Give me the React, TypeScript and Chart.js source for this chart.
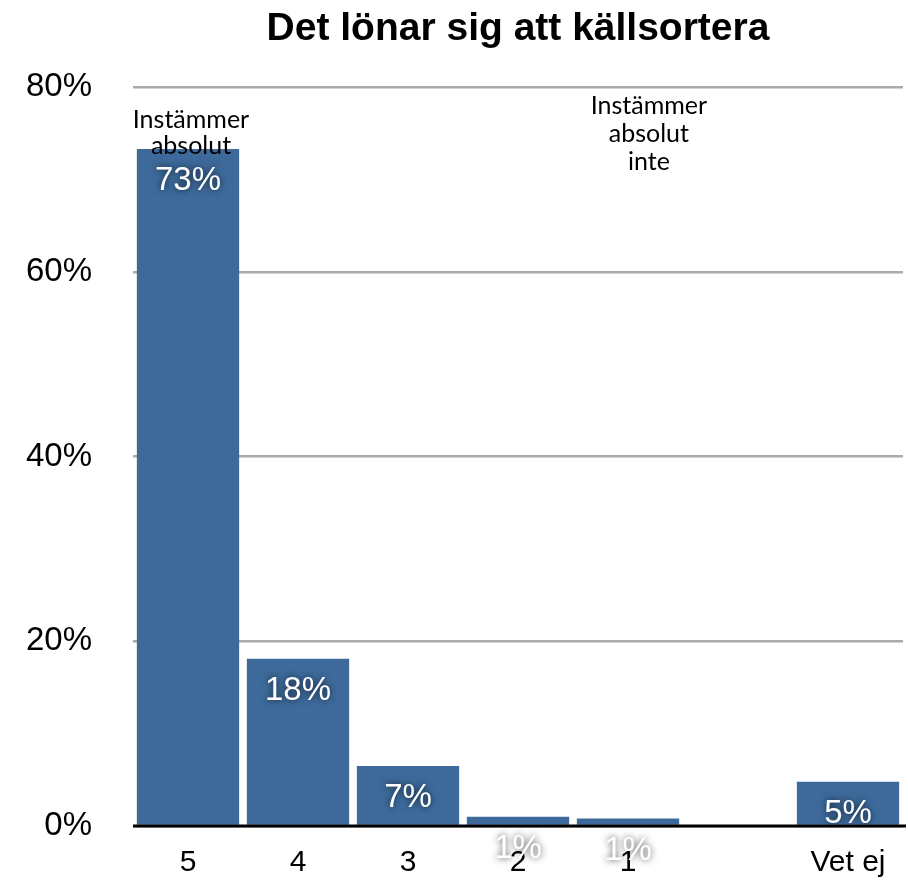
import React, { useEffect, useRef } from "react";
import { Chart, registerables } from "chart.js";

Chart.register(...registerables);

const titleText = "Det lönar sig att källsortera";
const categories = ["5", "4", "3", "2", "1", "", "Vet ej"];
const shares: (number | null)[] = [73.3, 18.1, 6.5, 1.0, 0.8, null, 4.8];
const yTickValues = [0, 20, 40, 60, 80];
const leftNote = ["Instämmer", "absolut"];
const rightNote = ["Instämmer", "absolut", "inte"];

const BAR = "#3d6a9b";

const overlay = {
  id: "overlay",
  afterDraw(chart: any) {
    const ctx = chart.ctx;
    const area = chart.chartArea;
    const xs = chart.scales.x;
    const ys = chart.scales.y;
    ctx.save();
    // baseline
    ctx.strokeStyle = "#000";
    ctx.lineWidth = 3;
    ctx.beginPath();
    ctx.moveTo(area.left, ys.getPixelForValue(0));
    ctx.lineTo(chart.width - 2, ys.getPixelForValue(0));
    ctx.stroke();

    // title
    ctx.fillStyle = "#000";
    ctx.font = "bold 39px 'Liberation Sans', Arial, sans-serif";
    ctx.textAlign = "center";
    ctx.textBaseline = "middle";
    ctx.fillText(titleText, (area.left + area.right) / 2, 29);

    // notes
    ctx.font = "25px Lato, sans-serif";
    const slot = xs.getPixelForValue(1) - xs.getPixelForValue(0);
    const top = ys.getPixelForValue(80);
    leftNote.forEach((t, i) => {
      ctx.fillText(t, xs.getPixelForValue(0) + 3, top + 33 + i * 26);
    });
    rightNote.forEach((t, i) => {
      ctx.fillText(t, xs.getPixelForValue(4) + slot * 0.19, top + 19 + i * 28);
    });

    // data labels
    const meta = chart.getDatasetMeta(0);
    ctx.font = "33px 'Liberation Sans', Arial, sans-serif";
    ctx.fillStyle = "#fff";
    ctx.shadowColor = "rgba(0,0,0,0.75)";
    ctx.shadowBlur = 7;
    meta.data.forEach((bar: any, i: number) => {
      const v = shares[i];
      if (v === null || v === undefined) return;
      ctx.fillText(Math.round(v) + "%", bar.x, bar.y + 32);
    });
    ctx.restore();
  },
};

export default function App() {
  const ref = useRef<HTMLCanvasElement | null>(null);
  useEffect(() => {
    if (!ref.current) return;
    const chart = new Chart(ref.current, {
      type: "bar",
      data: {
        labels: categories,
        datasets: [
          {
            data: shares,
            backgroundColor: BAR,
            borderWidth: 0,
            barPercentage: 1,
            categoryPercentage: 0.93,
          },
        ],
      },
      options: {
        responsive: false,
        animation: false,
        layout: { padding: { top: 87, right: 5, left: 0, bottom: 0 } },
        plugins: {
          legend: { display: false },
          title: { display: false },
          tooltip: { enabled: false },
        },
        scales: {
          x: {
            grid: { display: false },
            border: { display: false },
            ticks: {
              color: "#000",
              font: { family: "'Liberation Sans', Arial, sans-serif", size: 30 },
              padding: 11,
              maxRotation: 0,
              autoSkip: false,
            },
            afterFit(scale: any) {
              scale.height = 54;
              scale.paddingLeft = 0;
              scale.paddingRight = 0;
            },
          },
          y: {
            min: 0,
            max: 80,
            afterBuildTicks(scale: any) {
              scale.ticks = yTickValues.map((v) => ({ value: v }));
            },
            grid: { color: "#aaaaaa", lineWidth: 2.5, drawTicks: false },
            border: { display: false },
            ticks: {
              color: "#000",
              font: { family: "'Liberation Sans', Arial, sans-serif", size: 33 },
              padding: 41,
              callback: (v: any) => v + "%",
            },
            afterFit(scale: any) {
              scale.width = 133;
              scale.paddingTop = 0;
              scale.paddingBottom = 0;
            },
          },
        },
      },
      plugins: [overlay],
    });
    return () => chart.destroy();
  }, []);
  return (
    <div style={{ position: "absolute", left: 0, top: 0, width: 908, height: 880, background: "#fff" }}>
      <canvas ref={ref} width={908} height={880} style={{ display: "block" }} />
    </div>
  );
}
